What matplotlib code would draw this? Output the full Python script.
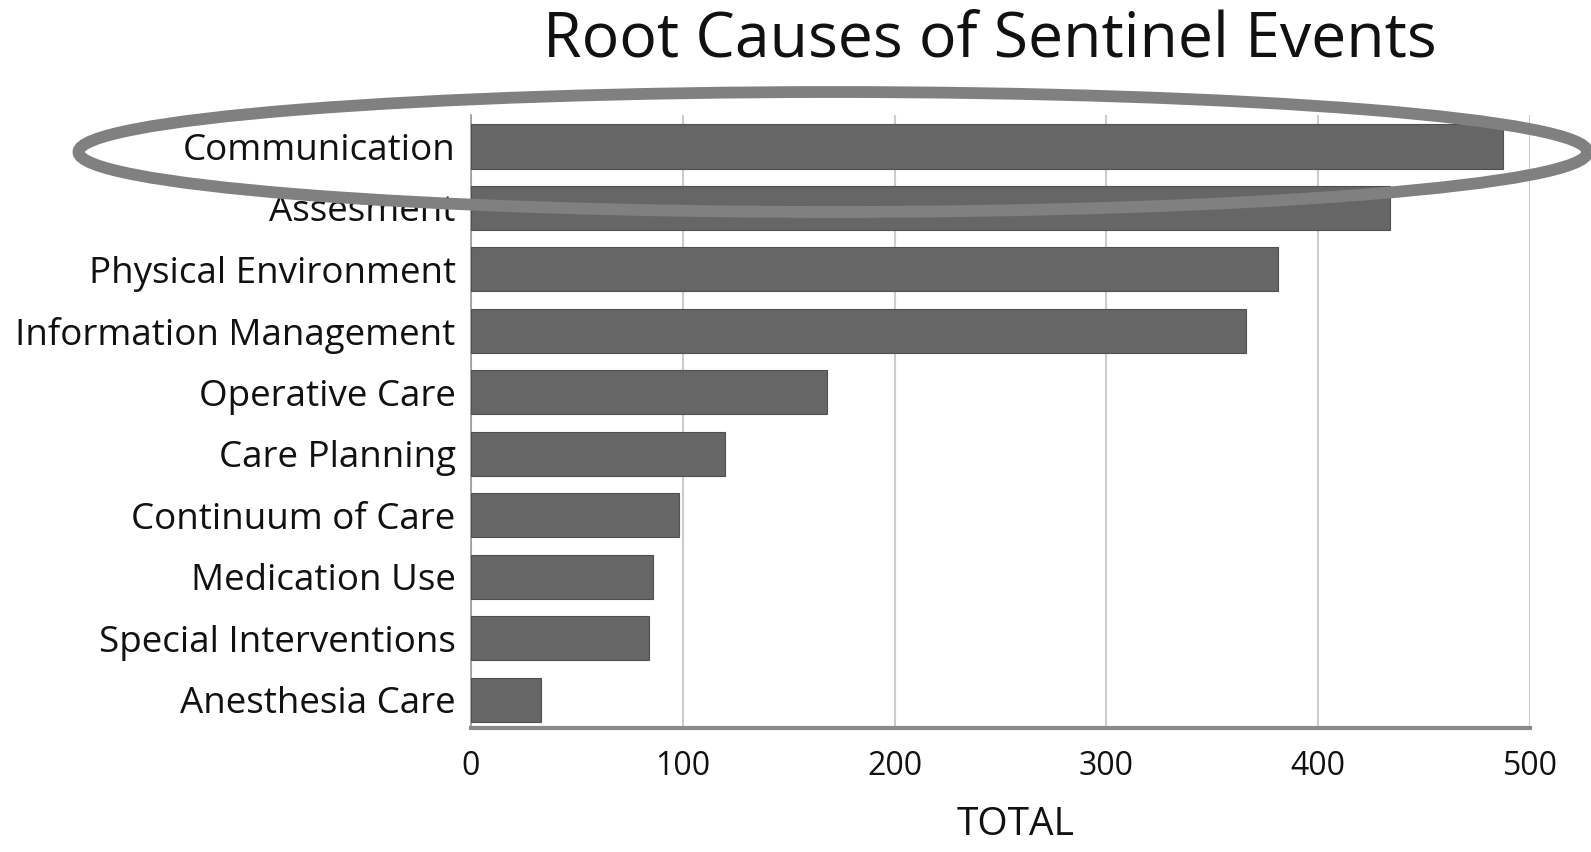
import matplotlib
matplotlib.use("Agg")
import matplotlib.pyplot as plt
from matplotlib.patches import Ellipse

# root cause categories, top to bottom
causes = ["Communication", "Assesment", "Physical Environment", "Information Management",
          "Operative Care", "Care Planning", "Continuum of Care", "Medication Use",
          "Special Interventions", "Anesthesia Care"]
totals = [487, 434, 381, 366, 168, 120, 98, 86, 84, 33]
xticks = [0, 100, 200, 300, 400, 500]

plt.rcParams['font.family'] = ['Open Sans', 'DejaVu Sans']

fig = plt.figure(figsize=(15.91, 8.52), dpi=100)
ax = fig.add_axes([0.296, 0.1455, 0.6657, 0.7195])

ypos = list(range(len(causes)))
ax.barh(ypos, totals, height=0.72, color="#666666", edgecolor="#505050", linewidth=0.8, zorder=3)

ax.set_xlim(0, 500)
ax.set_ylim(len(causes) - 0.54, -0.51)
ax.set_yticks(ypos)
ax.set_yticklabels(causes, fontsize=26.5, color="#111111")
ax.set_xticks(xticks)
ax.set_xticklabels([str(t) for t in xticks], fontsize=23, color="#111111")
ax.tick_params(axis="both", length=0)
ax.tick_params(axis="y", pad=11)
ax.tick_params(axis="x", pad=16)

ax.grid(axis="x", color="#cccccc", linewidth=1.5, zorder=0)
for s in ["top", "right"]:
    ax.spines[s].set_visible(False)
ax.spines["left"].set_color("#999999")
ax.spines["left"].set_linewidth(1.2)
ax.spines["bottom"].set_color("#8a8a8a")
ax.spines["bottom"].set_linewidth(3)

ax.set_xlabel("TOTAL", fontsize=28, color="#111111")
ax.xaxis.set_label_coords(0.514, -0.128)
fig.text(0.622, 0.953, "Root Causes of Sentinel Events", fontsize=45, ha="center", va="center", color="#111111")

# highlight ring around the top cause
ring = Ellipse((0.5236, 0.8216), 0.9485, 0.1408, transform=fig.transFigure,
               fill=False, edgecolor="#808080", linewidth=8.5, zorder=10)
fig.patches.append(ring)

fig.savefig("out.png", dpi=100)
